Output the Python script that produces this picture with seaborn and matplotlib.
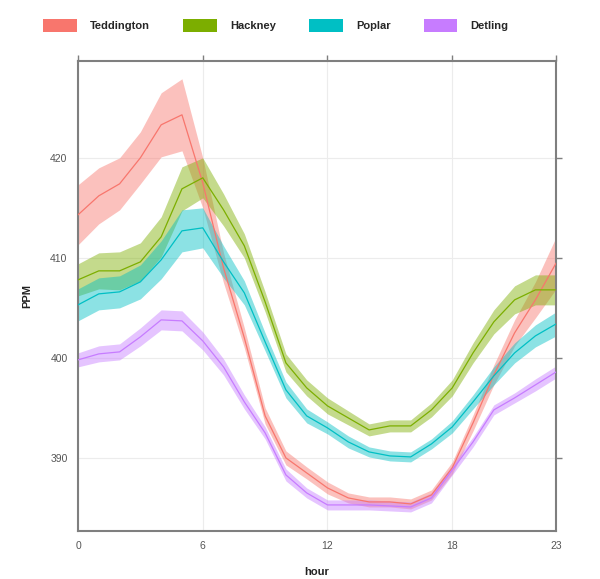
import numpy as np
import pandas as pd
import seaborn as sns
import matplotlib.pyplot as plt
from matplotlib.patches import Patch

hours = list(range(24))
sites = ["Teddington", "Hackney", "Poplar", "Detling"]
colours = ["#F8766D", "#7CAE00", "#00BFC4", "#C77CFF"]

# mean CO2 by hour of day (ppm) and half-width of the confidence band
teddington = [414.3, 416.2, 417.4, 420.0, 423.3, 424.3, 417.5, 409.0, 402.0, 394.2, 390.0, 388.5,
              387.0, 386.0, 385.6, 385.6, 385.4, 386.3, 389.0, 393.5, 398.3, 402.5, 405.8, 409.5]
teddington_ci = [3.0, 2.8, 2.6, 2.6, 3.2, 3.6, 2.5, 1.5, 1.0, 0.8, 0.7, 0.6,
                 0.6, 0.5, 0.5, 0.5, 0.5, 0.5, 0.6, 0.8, 1.0, 1.3, 1.8, 2.6]
hackney = [407.8, 408.7, 408.7, 409.6, 412.1, 416.9, 418.0, 414.8, 411.2, 405.6, 399.5, 397.0,
           395.2, 394.0, 392.8, 393.2, 393.2, 394.8, 397.0, 400.5, 403.6, 405.8, 406.8, 406.8]
hackney_ci = [1.6, 1.8, 1.9, 1.9, 2.0, 2.2, 2.0, 1.6, 1.2, 1.0, 0.9, 0.8,
              0.8, 0.7, 0.6, 0.6, 0.6, 0.7, 0.8, 1.0, 1.2, 1.4, 1.5, 1.5]
poplar = [405.3, 406.4, 406.6, 407.6, 409.8, 412.7, 413.0, 409.6, 406.5, 401.6, 396.8, 394.2,
          393.0, 391.6, 390.6, 390.2, 390.1, 391.4, 393.1, 395.6, 398.2, 400.5, 402.2, 403.4]
poplar_ci = [1.6, 1.6, 1.6, 1.7, 1.9, 2.1, 2.0, 1.6, 1.2, 0.9, 0.8, 0.7,
             0.6, 0.6, 0.5, 0.5, 0.5, 0.5, 0.6, 0.7, 0.9, 1.0, 1.1, 1.2]
detling = [399.8, 400.4, 400.6, 402.1, 403.8, 403.7, 401.7, 399.1, 395.6, 392.5, 388.3, 386.5,
           385.3, 385.3, 385.3, 385.2, 385.1, 386.0, 388.8, 391.6, 394.8, 396.0, 397.3, 398.6]
detling_ci = [0.7, 0.8, 0.8, 0.9, 1.0, 1.0, 0.9, 0.8, 0.7, 0.6, 0.6, 0.5,
              0.5, 0.5, 0.5, 0.5, 0.5, 0.5, 0.5, 0.5, 0.5, 0.5, 0.6, 0.6]

means = [teddington, hackney, poplar, detling]
cis = [teddington_ci, hackney_ci, poplar_ci, detling_ci]

frames = []
for s, m, c in zip(sites, means, cis):
    m = np.array(m)
    c = np.array(c)
    frames.append(pd.DataFrame({"hour": hours, "site": s, "ppm": m,
                                "lower": m - c, "upper": m + c}))
df = pd.concat(frames, ignore_index=True)

sns.set_style("white")
plt.rcParams["font.family"] = ["Liberation Sans", "DejaVu Sans"]

fig = plt.figure(figsize=(6, 5.79), dpi=100)
ax = fig.add_axes([0.13, 0.083, 0.797, 0.812])

pal = dict(zip(sites, colours))
for s in sites:
    d = df[df.site == s]
    ax.fill_between(d.hour, d.lower, d.upper, color=pal[s], alpha=0.45, lw=0, zorder=2)
sns.lineplot(data=df, x="hour", y="ppm", hue="site", palette=pal, ax=ax,
             lw=0.9, legend=False, zorder=3)

ax.set_xlim(0, 23)
ax.set_ylim(382.7, 429.7)
ax.set_xticks([0, 6, 12, 18, 23])
ax.set_yticks([390, 400, 410, 420])
ax.grid(True, color="#ececec", lw=0.8)
ax.set_axisbelow(True)
for sp in ax.spines.values():
    sp.set_color("#7f7f7f")
    sp.set_linewidth(1.5)
ax.tick_params(axis="both", which="both", direction="out", length=4, width=1,
               color="#7f7f7f", labelcolor="#555555", labelsize=7.5,
               top=True, right=True, labeltop=False, labelright=False)
ax.set_xlabel("hour", fontsize=8, fontweight="bold", color="#222222", labelpad=11)
ax.set_ylabel("PPM", fontsize=8, fontweight="bold", color="#222222", labelpad=13)

handles = [Patch(facecolor=c, edgecolor="none") for c in colours]
fig.legend(handles, sites, loc="upper center", bbox_to_anchor=(0.46, 0.985), ncol=4,
           frameon=False, handlelength=3.0, handleheight=1.4, columnspacing=3.0,
           handletextpad=1.2, prop={"size": 8, "weight": "bold"})

fig.savefig("out.png", dpi=100)
